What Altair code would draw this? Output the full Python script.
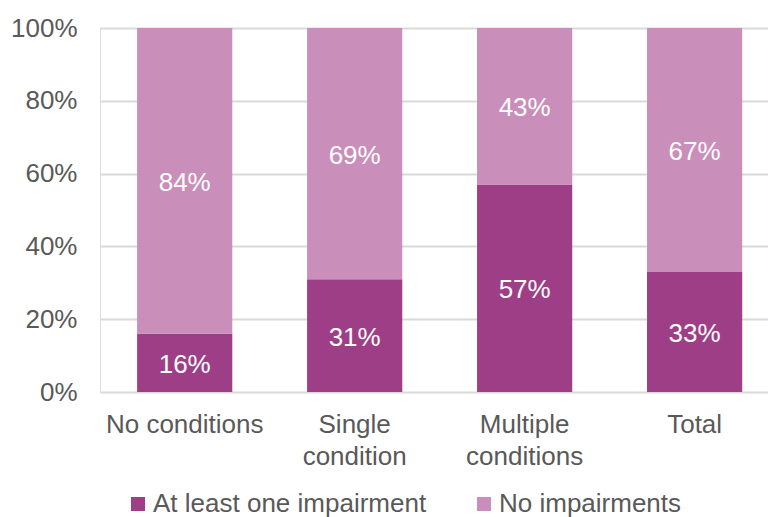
import altair as alt
import pandas as pd

# Share of people with at least one impairment, by number of conditions
groups = ["No conditions", "Single condition", "Multiple conditions", "Total"]
series = ["At least one impairment", "No impairments"]
impaired = [16, 31, 57, 33]
not_impaired = [84, 69, 43, 67]

rows = []
for g, a, b in zip(groups, impaired, not_impaired):
    rows.append({"group": g, "series": series[0], "value": a / 100, "order": 0})
    rows.append({"group": g, "series": series[1], "value": b / 100, "order": 1})
df = pd.DataFrame(rows)

FONT = "Liberation Sans"
TEXT_GREY = "#595959"
FS = 26

x_enc = alt.X(
    "group:N",
    sort=groups,
    scale=alt.Scale(paddingInner=0.44, paddingOuter=0.185, align=0.59),
    axis=alt.Axis(
        title=None,
        labelAngle=0,
        labelFontSize=FS,
        labelFont=FONT,
        labelColor=TEXT_GREY,
        labelPadding=19,
        labelLineHeight=32,
        labelBaseline="top",
        labelLimit=400,
        labelExpr="datum.value == 'No conditions' || datum.value == 'Total' ? datum.value : split(datum.value, ' ')",
        ticks=False,
        domain=False,
        grid=False,
    ),
)

y_enc = alt.Y(
    "value:Q",
    stack="zero",
    scale=alt.Scale(domain=[0, 1], nice=False),
    axis=alt.Axis(
        title=None,
        values=[i / 10 for i in range(11)],
        labelExpr="round(datum.value * 10) % 2 == 0 ? format(datum.value, '.0%') : ''",
        labelFontSize=FS,
        labelFont=FONT,
        labelColor=TEXT_GREY,
        labelPadding=23,
        ticks=False,
        domain=False,
        gridColor={
            "condition": {"test": "round(datum.value * 10) % 2 == 0", "value": "#D9D9D9"},
            "value": "#EDEDED",
        },
        gridWidth=2,
    ),
)

bars = alt.Chart(df).mark_bar().encode(
    x=x_enc,
    y=y_enc,
    color=alt.Color(
        "series:N",
        sort=series,
        scale=alt.Scale(domain=series, range=["#9E3E87", "#C98EB9"]),
        legend=alt.Legend(
            title=None,
            orient="none",
            direction="horizontal",
            legendX=25,
            legendY=463,
            symbolType="square",
            symbolSize=196,
            symbolStrokeWidth=0,
            symbolOpacity=1,
            labelFontSize=FS,
            labelFont=FONT,
            labelColor=TEXT_GREY,
            labelOffset=2,
            labelLimit=400,
            columnPadding=44,
        ),
    ),
    order=alt.Order("order:Q"),
)

labels = alt.Chart(df).mark_text(
    color="white", fontSize=FS, font=FONT, baseline="middle", align="center", dy=2
).encode(
    x=alt.X("group:N", sort=groups),
    y=alt.Y("value:Q", stack="zero", bandPosition=0.5),
    text=alt.Text("value:Q", format=".0%"),
    order=alt.Order("order:Q"),
)

chart = (
    alt.layer(bars, labels)
    .properties(
        width=668,
        height=364,
        padding={"left": 100, "top": 28, "right": 0, "bottom": 125},
        autosize=alt.AutoSizeParams(type="none"),
    )
    .configure_view(stroke=None)
    .configure(background="white")
)

chart.save("out.html", embed_options={"renderer": "svg", "actions": False})
